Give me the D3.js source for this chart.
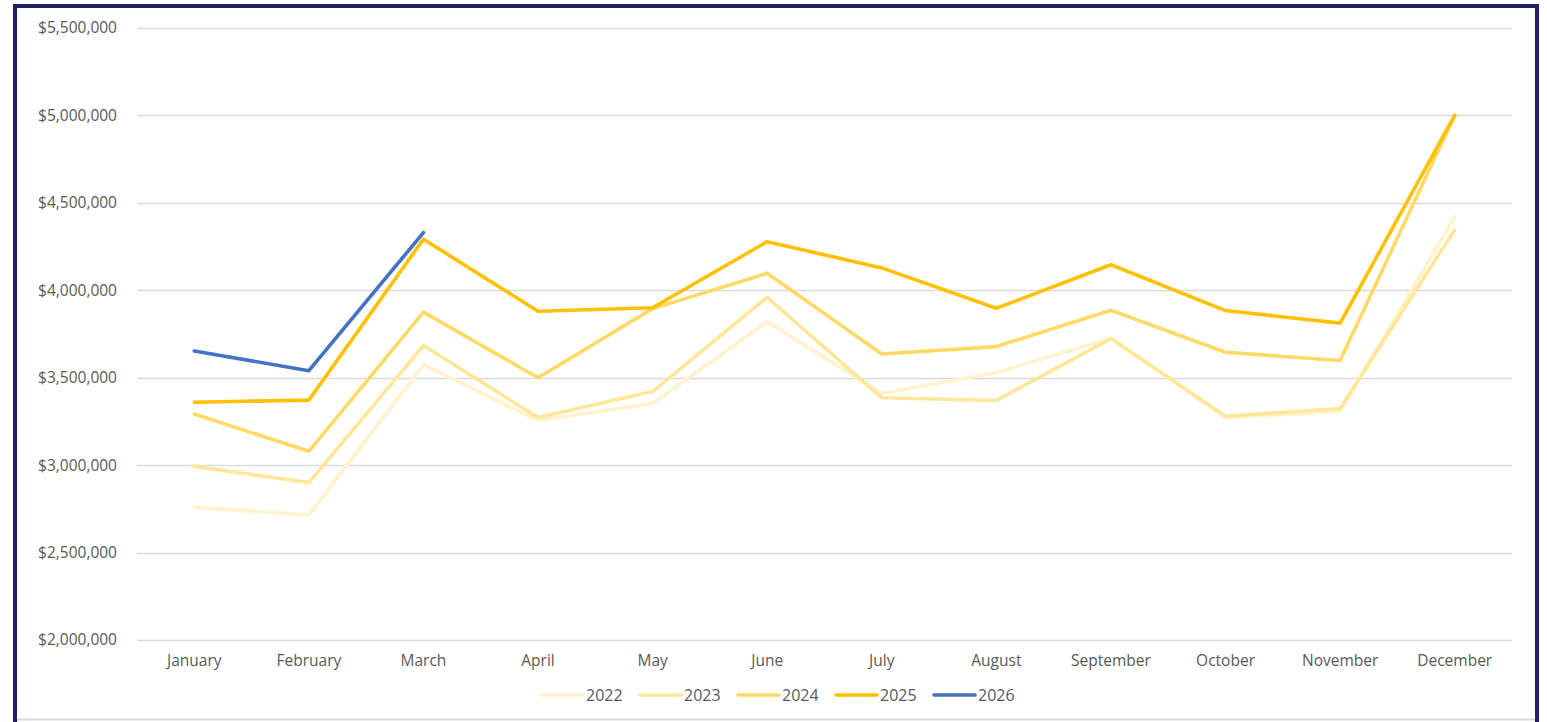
<!DOCTYPE html>
<html>
<head>
    <meta charset="UTF-8">
    <title>Monthly totals</title>
    <style>
        body { margin: 0; background: #fff; }
        svg text { font-family: "Open Sans", "Liberation Sans", sans-serif; fill: #595959; }
    </style>
</head>
<body>
    <svg></svg>
    <script src="https://d3js.org/d3.v7.min.js"></script>
    <script>
        const width = 1547, height = 722;

        // data
        const months = ["January", "February", "March", "April", "May", "June", "July",
            "August", "September", "October", "November", "December"];
        const years = ["2022", "2023", "2024", "2025", "2026"];
        const colors = ["#FFF2CC", "#FFE699", "#FFD966", "#FFC000", "#4472C4"];
        const v2022 = [2760000, 2715000, 3575000, 3256000, 3353000, 3820000, 3410000, 3530000, 3724000, 3273000, 3307000, 4420000];
        const v2023 = [2993000, 2900000, 3684000, 3273000, 3421000, 3960000, 3385000, 3370000, 3724000, 3279000, 3324000, 4346000];
        const v2024 = [3292000, 3079000, 3875000, 3500000, 3895000, 4097000, 3636000, 3678000, 3886000, 3646000, 3598000, 5000000];
        const v2025 = [3360000, 3372000, 4292000, 3880000, 3900000, 4278000, 4128000, 3897000, 4146000, 3884000, 3812000, 5000000];
        const v2026 = [3653000, 3540000, 4330000];
        const yTicks = [2000000, 2500000, 3000000, 3500000, 4000000, 4500000, 5000000, 5500000];

        const seriesValues = [v2022, v2023, v2024, v2025, v2026];

        const svg = d3.select("svg")
            .attr("width", width)
            .attr("height", height);

        // frame
        svg.append("rect")
            .attr("x", 15).attr("y", 6)
            .attr("width", 1522).attr("height", 740)
            .attr("fill", "none")
            .attr("stroke", "#1F1F6E")
            .attr("stroke-width", 4);
        svg.append("line")
            .attr("x1", 17).attr("x2", 1535)
            .attr("y1", 719.5).attr("y2", 719.5)
            .attr("stroke", "#d9d9d9").attr("stroke-width", 2);

        const plotLeft = 137, plotRight = 1512, plotTop = 28, plotBottom = 640;

        const x = d3.scalePoint()
            .domain(months)
            .range([plotLeft, plotRight])
            .padding(0.5);

        const y = d3.scaleLinear()
            .domain([2000000, 5500000])
            .range([plotBottom, plotTop]);

        // gridlines
        svg.append("g")
            .selectAll("line")
            .data(yTicks)
            .enter()
            .append("line")
            .attr("x1", plotLeft).attr("x2", plotRight)
            .attr("y1", d => Math.round(y(d)) + 0.5)
            .attr("y2", d => Math.round(y(d)) + 0.5)
            .attr("stroke", "#d9d9d9")
            .attr("stroke-width", 1.3);

        // y axis labels
        const fmt = d3.format("$,.0f");
        svg.append("g")
            .selectAll("text")
            .data(yTicks)
            .enter()
            .append("text")
            .attr("x", 117)
            .attr("y", d => y(d))
            .attr("dy", "0.35em")
            .attr("text-anchor", "end")
            .style("font-size", "15.5px")
            .text(d => fmt(d));

        // x axis labels
        svg.append("g")
            .selectAll("text")
            .data(months)
            .enter()
            .append("text")
            .attr("x", d => x(d))
            .attr("y", 661)
            .attr("dy", "0.35em")
            .attr("text-anchor", "middle")
            .style("font-size", "15.5px")
            .text(d => d);

        // lines
        const line = d3.line()
            .x((d, i) => x(months[i]))
            .y(d => y(d));

        svg.append("g")
            .selectAll("path")
            .data(seriesValues)
            .enter()
            .append("path")
            .attr("d", line)
            .attr("fill", "none")
            .attr("stroke", (d, i) => colors[i])
            .attr("stroke-width", 3.6)
            .attr("stroke-linejoin", "round")
            .attr("stroke-linecap", "round");

        // legend
        const legend = svg.append("g")
            .selectAll("g")
            .data(years)
            .enter()
            .append("g")
            .attr("transform", (d, i) => "translate(" + (542 + i * 98) + ",695)");
        legend.append("line")
            .attr("x1", 0).attr("x2", 41)
            .attr("y1", 0).attr("y2", 0)
            .attr("stroke", (d, i) => colors[i])
            .attr("stroke-width", 3.6)
            .attr("stroke-linecap", "round");
        legend.append("text")
            .attr("x", 44)
            .attr("dy", "0.35em")
            .style("font-size", "16px")
            .text(d => d);
    </script>
</body>
</html>
